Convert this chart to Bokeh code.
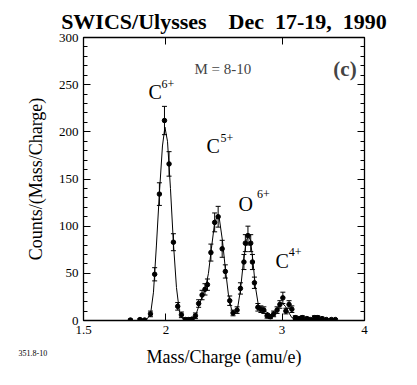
from bokeh.plotting import figure
from bokeh.models import (Range1d, FixedTicker, LogAxis, LinearAxis, Label,
                          ColumnDataSource, Title)
from bokeh.embed import file_html
from bokeh.resources import INLINE

# ---- data ----
mq = [1.767, 1.827, 1.857, 1.895, 1.923, 1.955, 1.990, 2.022, 2.053, 2.084,
      2.111, 2.141, 2.166, 2.191, 2.217, 2.242, 2.269, 2.292, 2.312, 2.340,
      2.371, 2.400, 2.434, 2.461, 2.499, 2.528, 2.564, 2.594, 2.626, 2.639,
      2.663, 2.689, 2.705, 2.724, 2.757, 2.786, 2.815, 2.847, 2.880, 2.913,
      2.948, 2.977, 3.008, 3.040, 3.074, 3.104, 3.142, 3.181, 3.220, 3.271,
      3.311, 3.358, 3.397, 3.449, 3.501, 3.563, 3.613]
counts = [0.5, 1, 0.5, 7, 49, 134, 212, 166, 83, 15,
          6, 1, 1, 1.5, 5, 18, 27, 33, 38, 72,
          104, 110, 76, 52, 21, 8, 11, 34, 62, 82,
          90, 82, 62, 40, 14, 12, 11, 5, 4, 7,
          11, 17, 24, 10, 17, 12, 3, 2, 3, 2,
          1, 3, 3, 2, 1, 1, 1]
errors = [1, 1, 1, 3, 7, 12, 15, 13, 9, 4,
          3, 1.5, 1.5, 1.5, 3, 4, 5, 6, 6, 9,
          10, 11, 9, 7, 5, 3, 3.5, 6, 8, 9,
          10, 9, 8, 6, 4, 3.5, 3.5, 2.5, 2, 3,
          3.5, 4, 6, 3, 4, 3.5, 2, 1.5, 2, 1.5,
          1, 2, 2, 1.5, 1, 1, 1]

fit_mq = [1.830, 1.868, 1.895, 1.915, 1.935, 1.955, 1.976, 1.993, 2.011, 2.032,
          2.053, 2.075, 2.096, 2.119, 2.141, 2.178, 2.201, 2.225, 2.248, 2.272,
          2.296, 2.320, 2.344, 2.369, 2.394, 2.410, 2.436, 2.461, 2.487, 2.514,
          2.540, 2.567, 2.594, 2.621, 2.649, 2.667, 2.686, 2.705, 2.733, 2.762,
          2.791, 2.820, 2.860, 2.900, 2.931, 2.962, 2.998, 3.035, 3.067, 3.104,
          3.142, 3.198, 3.311, 3.429, 3.613]
fit_counts = [0, 1, 6, 30, 80, 135, 185, 205, 190, 140,
              82, 35, 10, 2, 0, 0, 2, 8, 17, 26,
              34, 50, 76, 102, 112, 108, 85, 55, 28, 12,
              7, 12, 32, 62, 85, 90, 85, 68, 36, 16,
              12, 10, 8, 5, 8, 14, 19, 15, 9, 3,
              1.5, 1, 1, 0.5, 0]

x_ticks = [1.5, 2, 3, 4]
y_ticks = [0, 50, 100, 150, 200, 250, 300]
y_minor = list(range(0, 301, 10))

# ion labels: (main, superscript, x, y, sup_x, sup_y)
ions = [("C", "6+", 1.882, 241.8, 1.969, 250.3),
        ("C", "5+", 2.304, 184.8, 2.419, 193.0),
        ("O", "6+", 2.576, 123.0, 2.749, 133.6),
        ("C", "4+", 2.931, 62.9, 3.070, 72.4)]

title_text = "SWICS/Ulysses\u00a0\u00a0\u00a0\u00a0Dec\u00a0\u00a017-19,\u00a0\u00a01990"
fig_number = "351.8-10"

FONT = "Liberation Serif"

p = figure(width=408, height=377, x_axis_type="log",
           x_range=Range1d(1.5, 4), y_range=Range1d(0, 300),
           output_backend="svg", toolbar_location=None,
           min_border_left=83, min_border_right=44,
           min_border_top=37, min_border_bottom=57)
p.grid.visible = False
p.outline_line_color = "black"
p.outline_line_width = 1.3
p.background_fill_color = "white"
p.border_fill_color = "white"

p.title.text = title_text
p.title.text_font = FONT
p.title.text_font_size = "22px"
p.title.text_font_style = "bold"
p.title.align = "center"
p.title.text_color = "black"
p.title.standoff = 8

xt = FixedTicker(ticks=x_ticks, minor_ticks=[])
yt = FixedTicker(ticks=y_ticks, minor_ticks=y_minor)

def style(ax, labels=True):
    ax.axis_line_color = None
    ax.major_tick_in = 7
    ax.major_tick_out = 0
    ax.minor_tick_in = 4
    ax.minor_tick_out = 0
    ax.major_tick_line_color = "black"
    ax.minor_tick_line_color = "black"
    ax.major_label_text_font = FONT
    ax.major_label_text_font_size = "13px"
    ax.major_label_text_color = "black" if labels else None
    ax.major_label_standoff = 5 if labels else 0
    ax.axis_label_text_font = FONT
    ax.axis_label_text_font_size = "18px"
    ax.axis_label_text_font_style = "normal"
    ax.axis_label_text_color = "black"

p.xaxis.ticker = xt
p.yaxis.ticker = yt
style(p.xaxis[0])
style(p.yaxis[0])
p.xaxis.axis_label = "Mass/Charge (amu/e)"
p.yaxis.axis_label = "Counts/(Mass/Charge)"
p.xaxis.axis_label_standoff = 10
p.yaxis.axis_label_standoff = 10

top = LogAxis(ticker=xt)
style(top, labels=False)
p.add_layout(top, "above")
right = LinearAxis(ticker=yt)
style(right, labels=False)
p.add_layout(right, "right")

# small figure number below, at the lower left
p.add_layout(Title(text=fig_number, align="left", vertical_align="top",
                   offset=-65, standoff=-40,
                   text_font=FONT, text_font_size="8px",
                   text_font_style="normal", text_color="black"), "below")

# fit curve
p.line(fit_mq, fit_counts, line_color="black", line_width=1)

# error bars
lo = [c - e for c, e in zip(counts, errors)]
hi = [c + e for c, e in zip(counts, errors)]
src = ColumnDataSource(dict(x=mq, y=counts, lo=lo, hi=hi))
p.segment(x0="x", y0="lo", x1="x", y1="hi", source=src,
          line_color="black", line_width=1)
p.scatter(x="x", y="hi", source=src, marker="dash", size=5,
          line_color="black", line_width=1)
p.scatter(x="x", y="lo", source=src, marker="dash", size=5,
          line_color="black", line_width=1)
p.scatter(x="x", y="y", source=src, marker="circle", size=4.5,
          fill_color="black", line_color="black")

for main, sup, x, y, sx, sy in ions:
    p.add_layout(Label(x=x, y=y, text=main, text_font=FONT,
                       text_font_size="20px", text_baseline="alphabetic",
                       text_color="black"))
    p.add_layout(Label(x=sx, y=sy, text=sup, text_font=FONT,
                       text_font_size="12px", text_baseline="alphabetic",
                       text_color="black"))

p.add_layout(Label(x=2.209, y=266.8, text="M = 8-10", text_font=FONT,
                   text_font_size="15px", text_baseline="alphabetic"))
p.add_layout(Label(x=3.588, y=266.8, text="(c)", text_font=FONT,
                   text_font_size="21px", text_font_style="bold",
                   text_baseline="alphabetic"))

open("out.html", "w").write(file_html(p, INLINE))
